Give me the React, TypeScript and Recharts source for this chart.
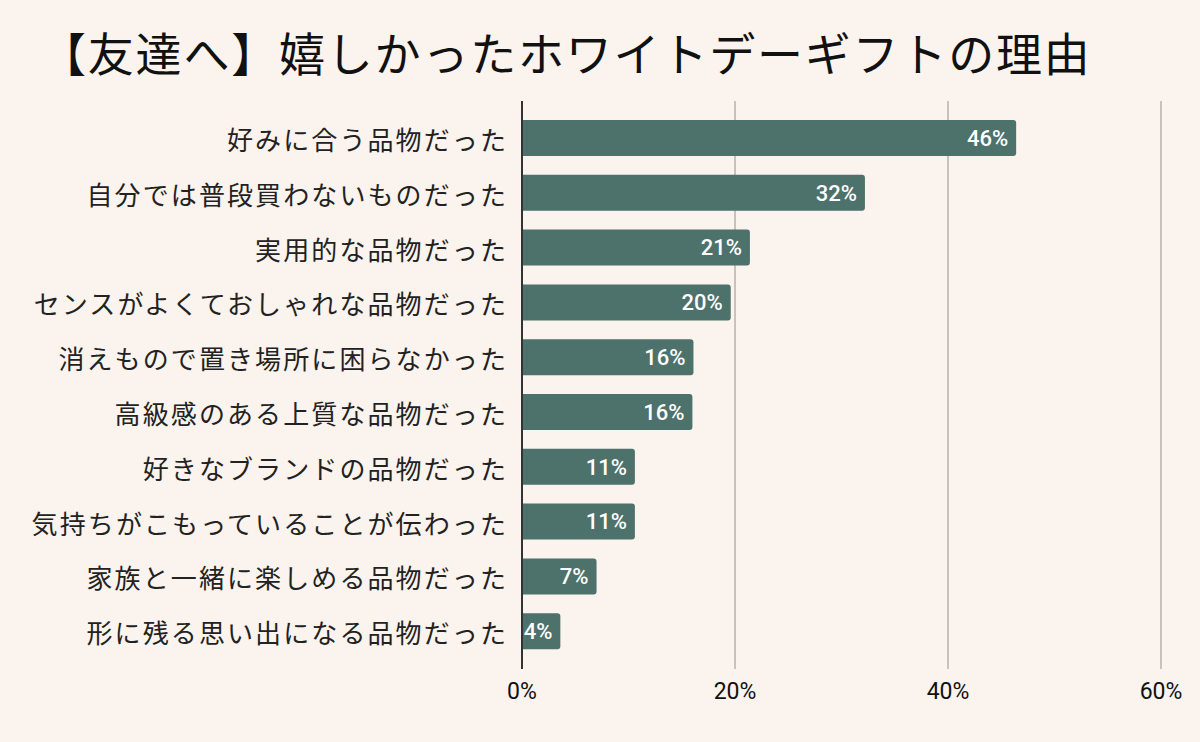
import React from 'react';
import { BarChart, Bar, XAxis, YAxis, CartesianGrid, LabelList } from 'recharts';

const categories = [
  '好みに合う品物だった',
  '自分では普段買わないものだった',
  '実用的な品物だった',
  'センスがよくておしゃれな品物だった',
  '消えもので置き場所に困らなかった',
  '高級感のある上質な品物だった',
  '好きなブランドの品物だった',
  '気持ちがこもっていることが伝わった',
  '家族と一緒に楽しめる品物だった',
  '形に残る思い出になる品物だった',
];
const values = [46.4, 32.2, 21.4, 19.6, 16.1, 16.0, 10.6, 10.6, 7.0, 3.6];
const xTicks = [0, 20, 40, 60];
const title = '【友達へ】嬉しかったホワイトデーギフトの理由';

const data = categories.map((name, i) => ({ name, value: values[i] }));

const FONT = '"Noto Sans CJK JP", "Noto Sans", sans-serif';

const YTick = (props: any) => {
  const { x, y, payload } = props;
  return (
    <text
      x={x + 2}
      y={y}
      textAnchor="end"
      dominantBaseline="central"
      fill="#222"
      fontSize={26}
      letterSpacing={2.1}
      fontFamily={FONT}
    >
      {payload.value}
    </text>
  );
};

const XTick = (props: any) => {
  const { x, y, payload } = props;
  return (
    <text x={x} y={y + 30} textAnchor="middle" fill="#111" fontSize={23} fontFamily="Roboto, sans-serif">
      {payload.value}%
    </text>
  );
};

export default function App() {
  return (
    <div style={{ position: 'absolute', left: 0, top: 0, width: 1200, height: 742, background: '#FBF3ED' }}>
      <div
        style={{
          position: 'absolute',
          left: 40,
          top: 21,
          fontSize: 46,
          lineHeight: '60px',
          letterSpacing: 1.8,
          fontFamily: FONT,
          color: '#111',
          whiteSpace: 'nowrap',
        }}
      >
        {title}
      </div>
      <BarChart
        width={1200}
        height={742}
        data={data}
        layout="vertical"
        margin={{ top: 101, right: 39, bottom: 33, left: 0 }}
        barCategoryGap={0}
      >
        <CartesianGrid horizontal={false} stroke="#C9C1BB" strokeWidth={2} />
        <XAxis
          type="number"
          domain={[0, 60]}
          ticks={xTicks}
          axisLine={false}
          tickLine={false}
          tickSize={0}
          tickMargin={0}
          height={40}
          tick={<XTick />}
          interval={0}
        />
        <YAxis
          type="category"
          dataKey="name"
          width={522}
          axisLine={{ stroke: '#333', strokeWidth: 2 }}
          tickLine={false}
          tickSize={0}
          tickMargin={16}
          tick={<YTick />}
          interval={0}
          padding={{ top: 10, bottom: 10 }}
        />
        <Bar dataKey="value" fill="#4D716B" barSize={36} radius={[0, 3, 3, 0]} isAnimationActive={false}>
          <LabelList
            dataKey="value"
            position="insideRight"
            offset={8}
            fill="#fff"
            fontSize={22}
            fontWeight={500}
            fontFamily="Roboto, sans-serif"
            formatter={(v: any) => `${Math.round(Number(v))}%`}
          />
        </Bar>
      </BarChart>
    </div>
  );
}
